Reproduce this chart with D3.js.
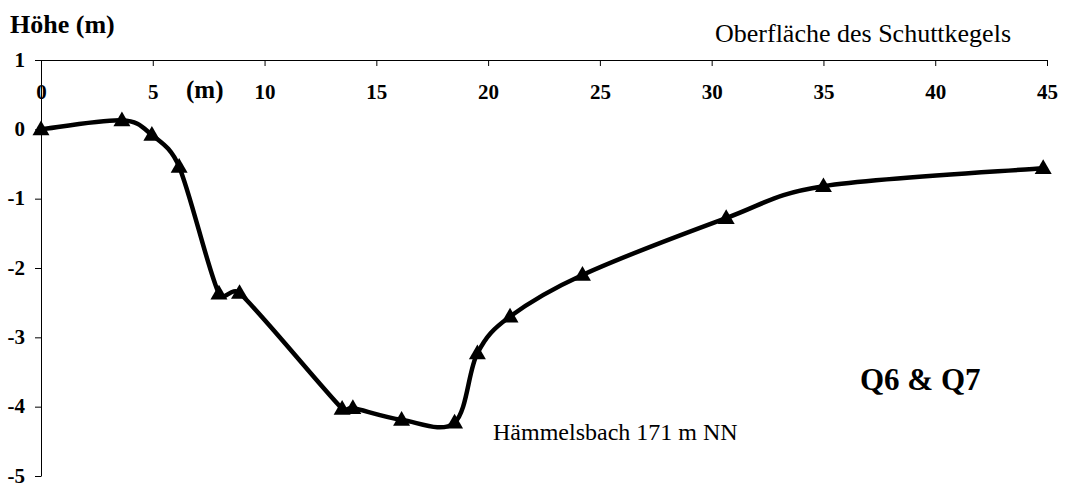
<!DOCTYPE html>
<html><head><meta charset="utf-8">
<script src="https://cdn.jsdelivr.net/npm/d3@7"></script>
<style>body{margin:0;background:#fff}svg{display:block}text{font-family:"Liberation Serif","Times New Roman",serif;fill:#000}</style>
</head><body><svg id="c" width="1066" height="487"></svg>
<script>
const distances = [0, 3.62, 4.96, 6.18, 7.96, 8.88, 13.47, 13.95, 16.13, 18.5, 19.52, 20.98, 24.22, 30.65, 35.0, 44.83];
const heights   = [0, 0.13, -0.08, -0.54, -2.37, -2.36, -4.03, -4.02, -4.19, -4.23, -3.23, -2.70, -2.10, -1.28, -0.82, -0.56];
const xTicks = [0, 5, 10, 15, 20, 25, 30, 35, 40, 45];
const yTicks = [1, 0, -1, -2, -3, -4, -5];

// Spreadsheet-style smoothed line: cubic Bezier, tangent (P[i+1]-P[i-1])/6, arms capped by segment length
function SmoothCurve(context) { this._context = context; }
SmoothCurve.prototype = {
  areaStart() {}, areaEnd() {},
  lineStart() { this._pts = []; },
  point(px, py) { this._pts.push([+px, +py]); },
  lineEnd() {
    const p = this._pts, c = this._context, n = p.length;
    if (!n) return;
    c.moveTo(p[0][0], p[0][1]);
    const cap = (v, m) => { const l = Math.hypot(v[0], v[1]); return l > m && l > 0 ? [v[0] * m / l, v[1] * m / l] : v; };
    for (let i = 0; i < n - 1; i++) {
      const p0 = p[Math.max(i - 1, 0)], p1 = p[i], p2 = p[i + 1], p3 = p[Math.min(i + 2, n - 1)];
      const d = Math.hypot(p2[0] - p1[0], p2[1] - p1[1]);
      const t1 = cap([(p2[0] - p0[0]) / 6, (p2[1] - p0[1]) / 6], d * 0.5);
      const t2 = cap([(p3[0] - p1[0]) / 6, (p3[1] - p1[1]) / 6], d * 0.5);
      c.bezierCurveTo(p1[0] + t1[0], p1[1] + t1[1], p2[0] - t2[0], p2[1] - t2[1], p2[0], p2[1]);
    }
  }
};
const curveSmooth = ctx => new SmoothCurve(ctx);

const svg = d3.select("#c");
const x = d3.scaleLinear().domain([0, 45]).range([41, 1047]);
const y = d3.scaleLinear().domain([1, -5]).range([60, 476]);
const fmt = d => d < 0 ? "-" + Math.abs(d) : String(d);

const xa = svg.append("g").attr("transform", `translate(0,${y(1)})`)
  .call(d3.axisBottom(x).tickValues(xTicks).tickSize(6).tickSizeOuter(0).tickFormat(fmt));
xa.select(".domain").attr("stroke", "#000");
xa.selectAll(".tick line").attr("stroke", "#000");
xa.selectAll("text").attr("y", 39).attr("dy", null)
  .attr("font-size", 21).attr("font-weight", "bold").attr("font-family", "Liberation Serif").attr("fill", "#000");

const ya = svg.append("g").attr("transform", `translate(${x(0)},0)`)
  .call(d3.axisLeft(y).tickValues(yTicks).tickSize(6).tickSizeOuter(0).tickFormat(fmt));
ya.select(".domain").attr("stroke", "#000");
ya.selectAll(".tick line").attr("stroke", "#000");
ya.selectAll("text").attr("x", -16).attr("dy", "0.3em")
  .attr("font-size", 21).attr("font-weight", "bold").attr("font-family", "Liberation Serif").attr("fill", "#000");

const pts = distances.map((d, i) => [d, heights[i]]);
svg.append("path").datum(pts)
  .attr("d", d3.line().x(d => x(d[0])).y(d => y(d[1])).curve(curveSmooth))
  .attr("fill", "none").attr("stroke", "#000").attr("stroke-width", 4.5).attr("stroke-linejoin", "round");

svg.selectAll(".m").data(pts).join("path")
  .attr("transform", d => `translate(${x(d[0])},${y(d[1]) + 1})`)
  .attr("d", d3.symbol().type(d3.symbolTriangle).size(125))
  .attr("fill", "#000");

svg.append("text").attr("x", 10).attr("y", 33).attr("font-size", 26).attr("font-weight", "bold").text("Höhe (m)");
svg.append("text").attr("x", 186).attr("y", 98).attr("font-size", 25).attr("font-weight", "bold").text("(m)");
svg.append("text").attr("x", 715).attr("y", 42).attr("font-size", 26).text("Oberfläche des Schuttkegels");
svg.append("text").attr("x", 860).attr("y", 390).attr("font-size", 31).attr("font-weight", "bold").text("Q6 & Q7");
svg.append("text").attr("x", 493).attr("y", 440).attr("font-size", 24).text("Hämmelsbach 171 m NN");
</script></body></html>
